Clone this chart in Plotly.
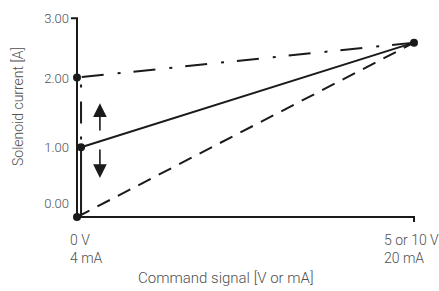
import plotly.graph_objects as go

# ---- data (schematic values) ----
cmd_signal = [0.0, 1.0]                 # normalized command: 0 -> 0 V/4 mA, 1 -> 5/10 V / 20 mA
current_max = 2.5                       # A at full command
current_start_dashed = 0.0              # A
current_start_solid = 1.0               # A
current_start_dashdot = 2.0             # A

ytick_text = ["0.00", "1.00", "2.00", "3.00"]
ytick_pos = [0.19, 1.0, 1.98, 2.84]
xtick_text = ["0 V<br>4 mA", "5 or 10 V<br>20 mA"]
xtick_pos = [0.0, 1.0]

axis_top = 2.85
off = 0.012  # small horizontal offset for the vertical branches

L, R, T, B = 50, 10, 10, 61
W, H = 439, 291
px_per_x = 337.0
px_per_y = 69.75
x_min = -(77 - L) / px_per_x
x_max = 1 + ((W - R) - 414) / px_per_x
y_max = (217 - T) / px_per_y
y_min = -((H - B) - 217) / px_per_y

LINE = "#1a1a1a"
TXT = "#505050"
FONT = "Roboto, Liberation Sans, Arial, sans-serif"
WEIGHT = 300

fig = go.Figure()

# axes drawn as lines
fig.add_trace(go.Scatter(
    x=[-0.018, 0, 0, xtick_pos[1], xtick_pos[1]],
    y=[axis_top, axis_top, 0, 0, -0.07],
    mode="lines", line=dict(color=LINE, width=2), hoverinfo="skip"))

# dashed line: 0 A -> max
fig.add_trace(go.Scatter(
    x=cmd_signal, y=[current_start_dashed, current_max],
    mode="lines", line=dict(color=LINE, width=2, dash="14px,9px"), hoverinfo="skip"))

# solid line: max -> 1 A -> down to 0
fig.add_trace(go.Scatter(
    x=[cmd_signal[1], cmd_signal[0] + off, cmd_signal[0] + off],
    y=[current_max, current_start_solid, current_start_dashed],
    mode="lines", line=dict(color=LINE, width=2), hoverinfo="skip"))

# dash-dot line: max -> 2 A -> down to 1 A
fig.add_trace(go.Scatter(
    x=[cmd_signal[1], cmd_signal[0], cmd_signal[0] + off, cmd_signal[0] + off],
    y=[current_max, current_start_dashdot, current_start_dashdot - 0.1, current_start_solid],
    mode="lines", line=dict(color=LINE, width=2, dash="22px,13px,3px,14px"), hoverinfo="skip"))

# dots
fig.add_trace(go.Scatter(
    x=[cmd_signal[0], cmd_signal[0] + off, cmd_signal[0], cmd_signal[1]],
    y=[current_start_dashed, current_start_solid, current_start_dashdot, current_max],
    mode="markers", marker=dict(color=LINE, size=8), cliponaxis=False, hoverinfo="skip"))

# arrows
arrow_x = 0.068
for tail, head in [(1.22, 1.63), (0.99, 0.56)]:
    fig.add_annotation(x=arrow_x, y=head, ax=arrow_x, ay=tail, xref="x", yref="y",
                       axref="x", ayref="y", showarrow=True, arrowhead=2,
                       arrowsize=1.7, arrowwidth=1.6, arrowcolor=LINE, text="")

# x tick labels
for xp, txt, shift in zip(xtick_pos, xtick_text, [-9, -32]):
    fig.add_annotation(x=xp, y=0, xref="x", yref="paper", text=txt, showarrow=False,
                       xanchor="left", yanchor="top", align="left", xshift=shift,
                       font=dict(size=14, color=TXT, family=FONT, weight=WEIGHT))

# axis titles
fig.add_annotation(x=(225.5 - L) / (W - L - R), y=-(278 - (H - B)) / (H - T - B),
                   xref="paper", yref="paper", text="Command signal [V or mA]",
                   showarrow=False, xanchor="center", yanchor="middle",
                   font=dict(size=15, color=TXT, family=FONT, weight=WEIGHT))
fig.add_annotation(x=-(L - 18) / (W - L - R), y=((H - B) - 107) / (H - T - B),
                   xref="paper", yref="paper", text="Solenoid current [A]",
                   textangle=-90, showarrow=False, xanchor="center", yanchor="middle",
                   font=dict(size=14, color=TXT, family=FONT, weight=WEIGHT))

fig.update_layout(
    width=W, height=H, margin=dict(l=L, r=R, t=T, b=B),
    paper_bgcolor="white", plot_bgcolor="white", showlegend=False,
    font=dict(family=FONT, color=TXT, weight=WEIGHT),
    xaxis=dict(range=[x_min, x_max], showgrid=False, zeroline=False, showline=False,
               showticklabels=False, ticks=""),
    yaxis=dict(range=[y_min, y_max], showgrid=False, zeroline=False, showline=False,
               tickmode="array", tickvals=ytick_pos, ticktext=ytick_text, ticks="",
               anchor="free", position=(77 - L) / (W - L - R), ticklabelstandoff=8,
               tickfont=dict(size=13, color=TXT, family=FONT, weight=WEIGHT)),
)

fig.write_html("out.html", config={"displayModeBar": False},
               post_script="document.body.style.margin='0';document.body.style.padding='0';")
